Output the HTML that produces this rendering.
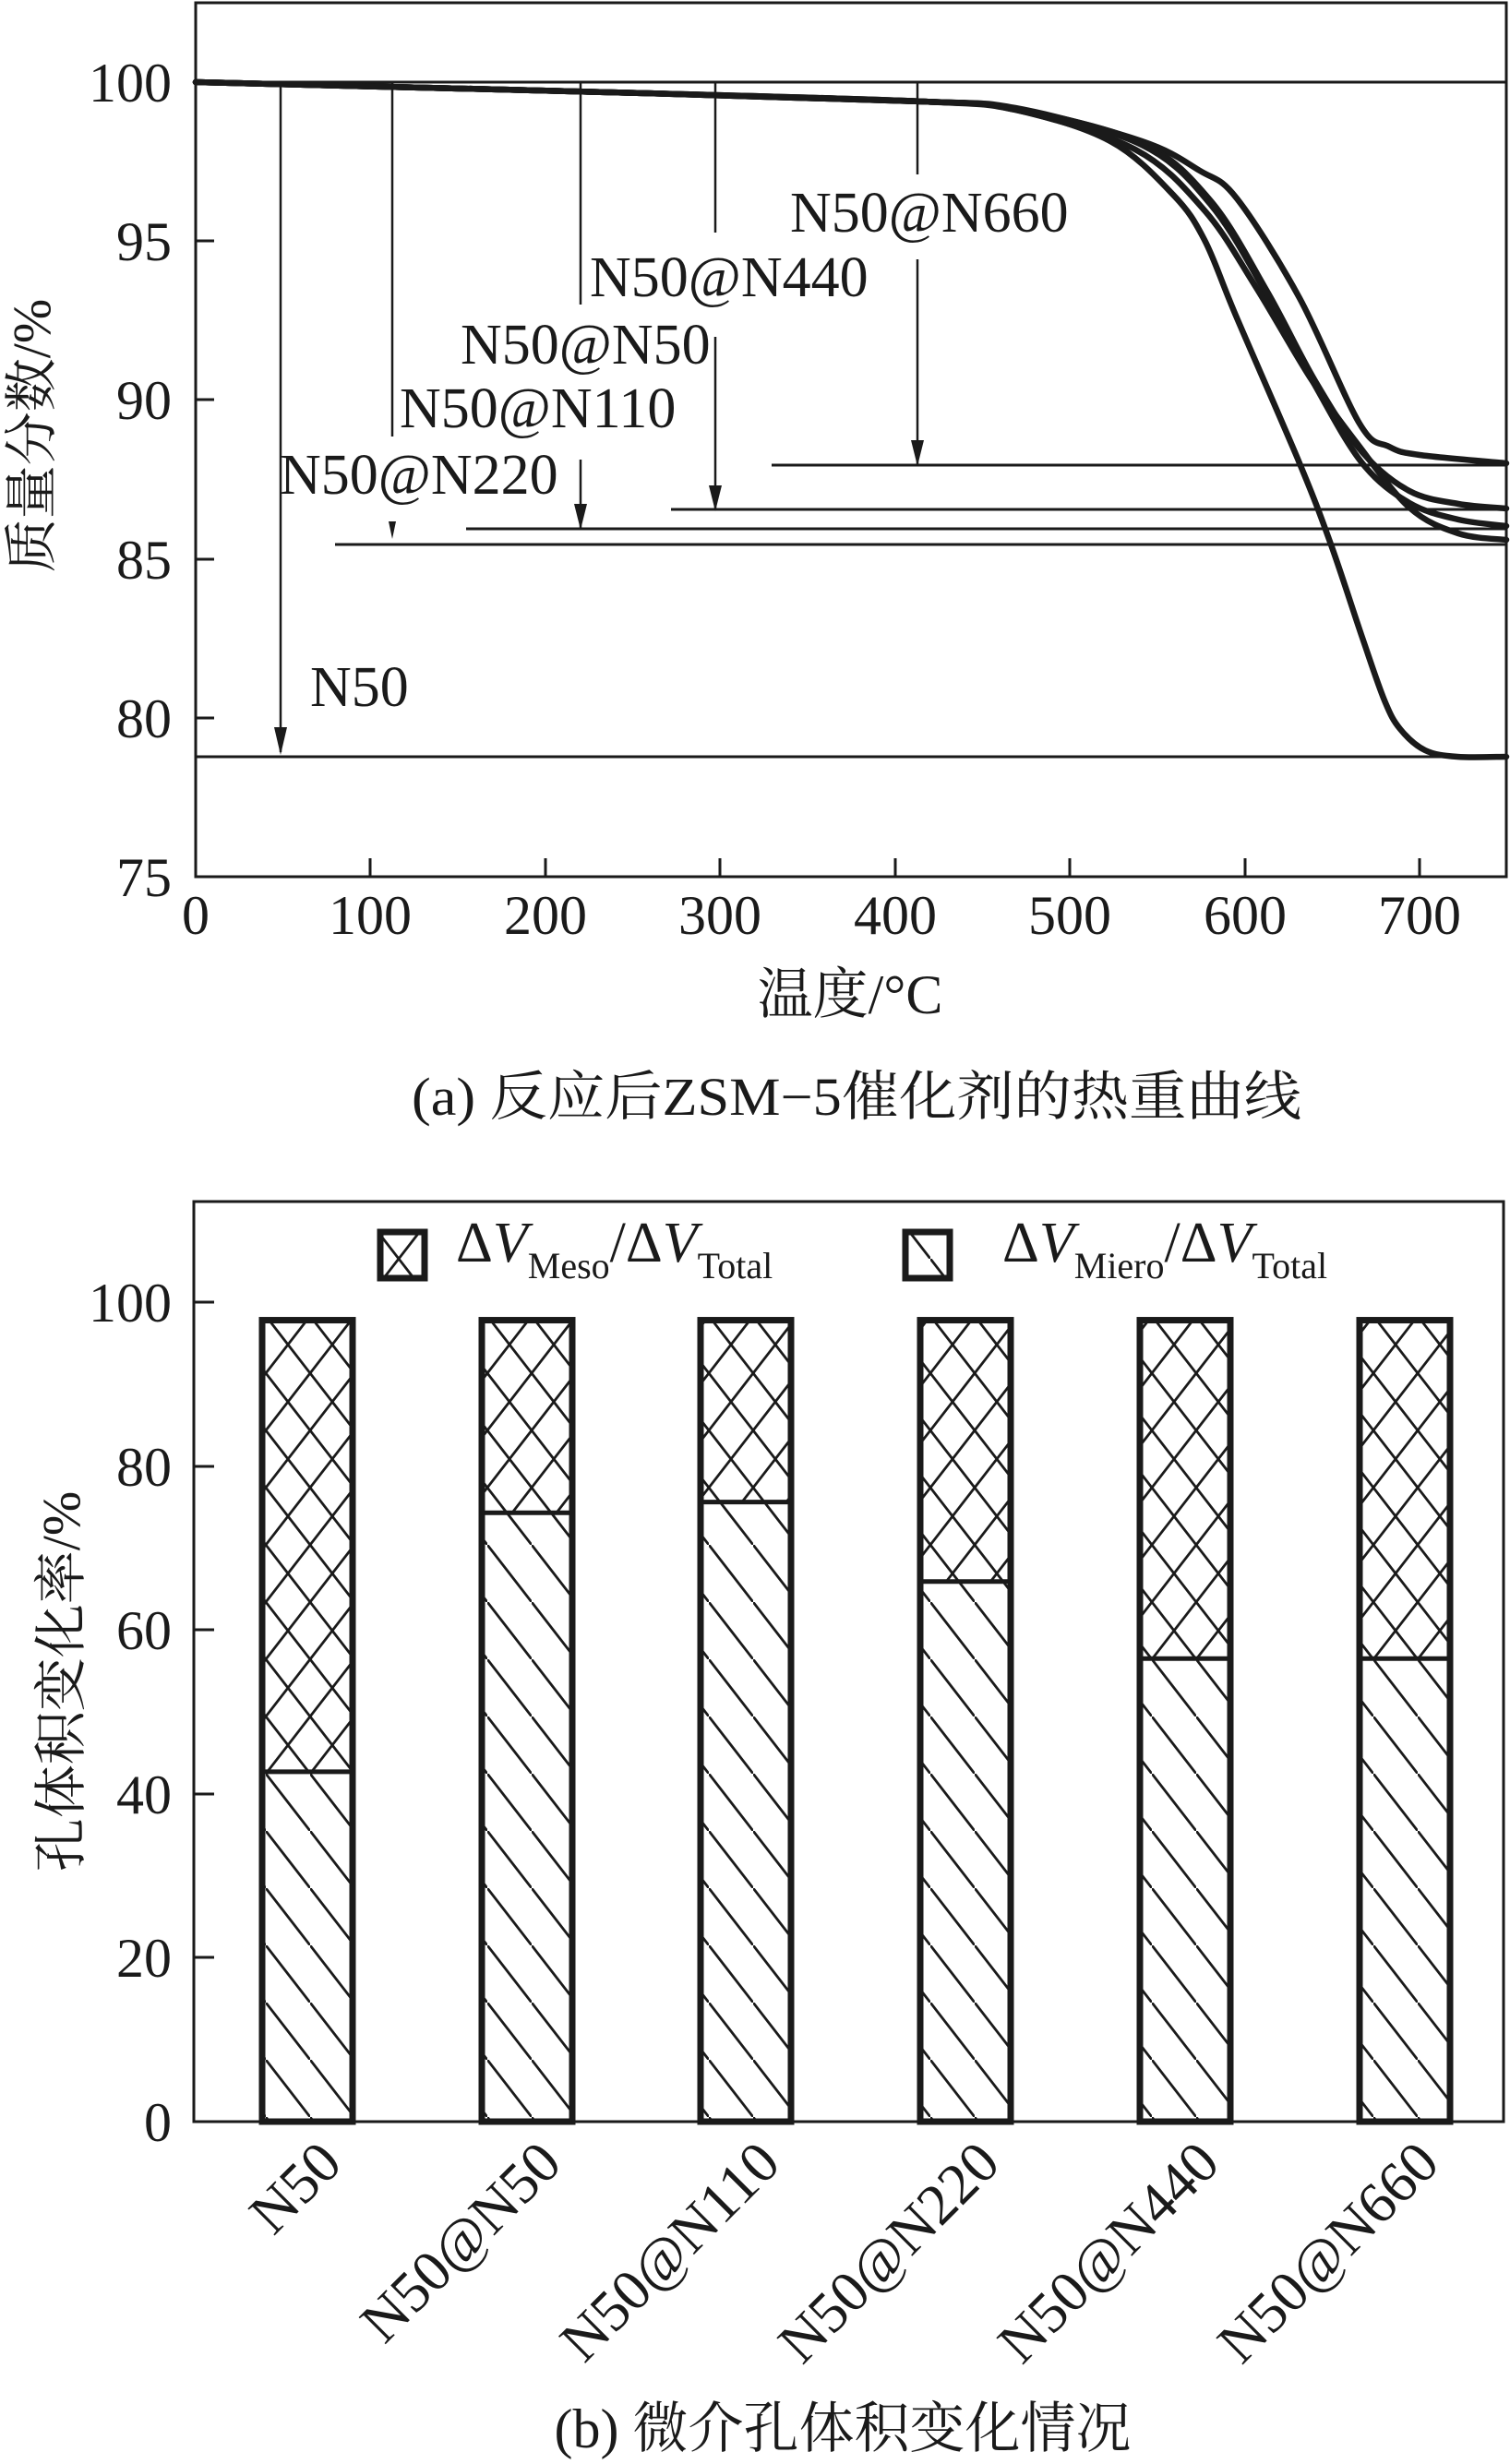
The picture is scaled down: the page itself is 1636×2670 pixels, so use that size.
<!DOCTYPE html>
<html><head><meta charset="utf-8">
<style>
html,body{margin:0;padding:0;background:#fff;}
svg{display:block;}
text{font-family:"Liberation Serif","Noto Serif CJK SC","Noto Sans CJK SC",serif;fill:#1a1a1a;}
</style></head>
<body>
<svg id="s" width="1636" height="2670" viewBox="0 0 1636 2670" xmlns="http://www.w3.org/2000/svg">
<defs>
<pattern id="cross" patternUnits="userSpaceOnUse" width="48" height="62">
<path d="M0,0 L48,62 M48,0 L0,62 M-24,-31 L24,31 M24,31 L72,93 M24,-31 L-24,31 M72,31 L24,93" stroke="#1a1a1a" stroke-width="2.8" fill="none"/>
</pattern>
<pattern id="diag" patternUnits="userSpaceOnUse" width="48" height="62">
<path d="M0,0 L48,62 M-24,-31 L24,31 M24,31 L72,93" stroke="#1a1a1a" stroke-width="2.8" fill="none"/>
</pattern>
</defs>
<g id="top" stroke="#1a1a1a" fill="none">
<rect x="212" y="3" width="1420" height="947" stroke-width="3"/>
<path d="M212,89 h20 M212,261 h20 M212,433 h20 M212,606 h20 M212,778 h20" stroke-width="3"/>
<path d="M401,950 v-20 M591,950 v-20 M780,950 v-20 M970,950 v-20 M1159,950 v-20 M1349,950 v-20 M1538,950 v-20" stroke-width="3"/>
<path d="M212,89 H1632 M212,820 H1632 M836,504 H1632 M727,552 H1632 M505,573 H1632 M363,590 H1632" stroke-width="3"/>
<path d="M304,89 V815 M425,89 V473 M629,89 V330 M629,498 V572 M775,89 V252 M775,365 V552 M994,89 V189 M994,281 V503" stroke-width="2.5"/>
<g fill="#1a1a1a" stroke="none">
<path d="M304,818 L297,788 L311,788 Z"/>
<path d="M425,584 L421,565 L429,565 Z"/>
<path d="M629,574 L622,546 L636,546 Z"/>
<path d="M775,554 L768,526 L782,526 Z"/>
<path d="M994,505 L987,477 L1001,477 Z"/>
</g>
<g id="curves" stroke-width="6.5" stroke-linejoin="round" stroke-linecap="round"></g>
</g>
<g font-size="62">
<text x="856" y="251">N50@N660</text>
<text x="639" y="321">N50@N440</text>
<text x="499" y="394">N50@N50</text>
<text x="433" y="463">N50@N110</text>
<text x="303" y="535">N50@N220</text>
<text x="336" y="765">N50</text>
</g>
<g font-size="60" text-anchor="end">
<text x="186" y="110">100</text>
<text x="186" y="282">95</text>
<text x="186" y="454">90</text>
<text x="186" y="627">85</text>
<text x="186" y="799">80</text>
<text x="186" y="971">75</text>
</g>
<g font-size="60" text-anchor="middle">
<text x="212" y="1012">0</text>
<text x="401" y="1012">100</text>
<text x="591" y="1012">200</text>
<text x="780" y="1012">300</text>
<text x="970" y="1012">400</text>
<text x="1159" y="1012">500</text>
<text x="1349" y="1012">600</text>
<text x="1538" y="1012">700</text>
<text x="921" y="1098" font-size="60">温度/°C</text>
<text x="928" y="1208" font-size="58" textLength="964" lengthAdjust="spacingAndGlyphs">(a) 反应后ZSM−5催化剂的热重曲线</text>
<text transform="translate(54,472) rotate(-90)" font-size="58">质量分数/%</text>
</g>

<g stroke="#1a1a1a" fill="none">
<path d="M210,1302 H1629 V2299 H210 Z" stroke-width="3"/>
<path d="M210,1411 h22 M210,1589 h22 M210,1766 h22 M210,1944 h22 M210,2121 h22" stroke-width="3"/>
</g>
<g id="bars"></g>
<g font-size="60" text-anchor="end">
<text x="186" y="1432">100</text>
<text x="186" y="1610">80</text>
<text x="186" y="1787">60</text>
<text x="186" y="1965">40</text>
<text x="186" y="2142">20</text>
<text x="186" y="2320">0</text>
</g>
<rect x="412" y="1335" width="48" height="50" fill="url(#cross)" stroke="#1a1a1a" stroke-width="7"/>
<rect x="981" y="1335" width="48" height="50" fill="url(#diag)" stroke="#1a1a1a" stroke-width="7"/>
<text x="494" y="1367" font-size="62">Δ<tspan font-style="italic">V</tspan><tspan font-size="40" dy="18">Meso</tspan><tspan dy="-18">/Δ</tspan><tspan font-style="italic">V</tspan><tspan font-size="40" dy="18">Total</tspan></text>
<text x="1086" y="1367" font-size="62">Δ<tspan font-style="italic">V</tspan><tspan font-size="40" dy="18">Miero</tspan><tspan dy="-18">/Δ</tspan><tspan font-style="italic">V</tspan><tspan font-size="40" dy="18">Total</tspan></text>
<g id="xl" font-size="63" text-anchor="end"></g>
<text transform="translate(86,1822) rotate(-90)" font-size="58" text-anchor="middle">孔体积变化率/%</text>
<text x="913" y="2652" font-size="60" text-anchor="middle">(b) 微介孔体积变化情况</text>
</svg>
<script>
var NS="http://www.w3.org/2000/svg";
function cr(p){var d="M"+p[0][0]+","+p[0][1];for(var i=0;i<p.length-1;i++){var p0=p[i-1]||p[i],p1=p[i],p2=p[i+1],p3=p[i+2]||p2;
d+=" C"+(p1[0]+(p2[0]-p0[0])/6)+","+(p1[1]+(p2[1]-p0[1])/6)+" "+(p2[0]-(p3[0]-p1[0])/6)+","+(p2[1]-(p3[1]-p1[1])/6)+" "+p2[0]+","+p2[1];}return d;}
var head=[[212,89],[700,101],[1000,110]];
var cs=[
head.concat([[1100,119],[1203,153],[1271,211],[1305,260],[1339,342],[1408,502],[1442,590],[1476,691],[1500,759],[1517,790],[1544,813],[1579,820],[1632,820]]),
head.concat([[1100,117],[1237,153],[1300,185],[1340,215],[1408,323],[1473,459],[1505,484],[1538,493],[1632,502]]),
head.concat([[1100,118],[1237,155],[1312,218],[1373,316],[1425,413],[1476,490],[1527,532],[1580,546],[1632,551]]),
head.concat([[1100,118],[1237,157],[1312,222],[1373,320],[1425,418],[1476,502],[1527,545],[1580,563],[1632,570]]),
head.concat([[1100,119],[1230,162],[1305,228],[1360,310],[1420,410],[1470,480],[1527,550],[1580,578],[1632,585]])];
var g=document.getElementById("curves");
cs.forEach(function(p){var e=document.createElementNS(NS,"path");e.setAttribute("d",cr(p));g.appendChild(e);});
var bars=document.getElementById("bars"),xl=document.getElementById("xl");
var cx=[333,571,808,1046,1284,1522],sp=[42.7,74.3,75.6,65.9,56.5,56.5],nm=["N50","N50@N50","N50@N110","N50@N220","N50@N440","N50@N660"];
function Y(v){return 2299-8.88*v;}
for(var i=0;i<6;i++){
 var x=cx[i]-49,w=98,yt=Y(97.8),ys=Y(sp[i]);
 var r1=document.createElementNS(NS,"rect");r1.setAttribute("x",x);r1.setAttribute("y",yt);r1.setAttribute("width",w);r1.setAttribute("height",ys-yt);r1.setAttribute("fill","url(#cross)");bars.appendChild(r1);
 var r2=document.createElementNS(NS,"rect");r2.setAttribute("x",x);r2.setAttribute("y",ys);r2.setAttribute("width",w);r2.setAttribute("height",2299-ys);r2.setAttribute("fill","url(#diag)");bars.appendChild(r2);
 var r3=document.createElementNS(NS,"rect");r3.setAttribute("x",x);r3.setAttribute("y",yt);r3.setAttribute("width",w);r3.setAttribute("height",2299-yt);r3.setAttribute("fill","none");r3.setAttribute("stroke","#1a1a1a");r3.setAttribute("stroke-width","7");bars.appendChild(r3);
 var l=document.createElementNS(NS,"line");l.setAttribute("x1",x);l.setAttribute("x2",x+w);l.setAttribute("y1",ys);l.setAttribute("y2",ys);l.setAttribute("stroke","#1a1a1a");l.setAttribute("stroke-width","5");bars.appendChild(l);
 var t=document.createElementNS(NS,"text");t.setAttribute("transform","translate("+(cx[i]+40)+",2347) rotate(-45)");t.textContent=nm[i];xl.appendChild(t);
}
</script>
</body></html>
